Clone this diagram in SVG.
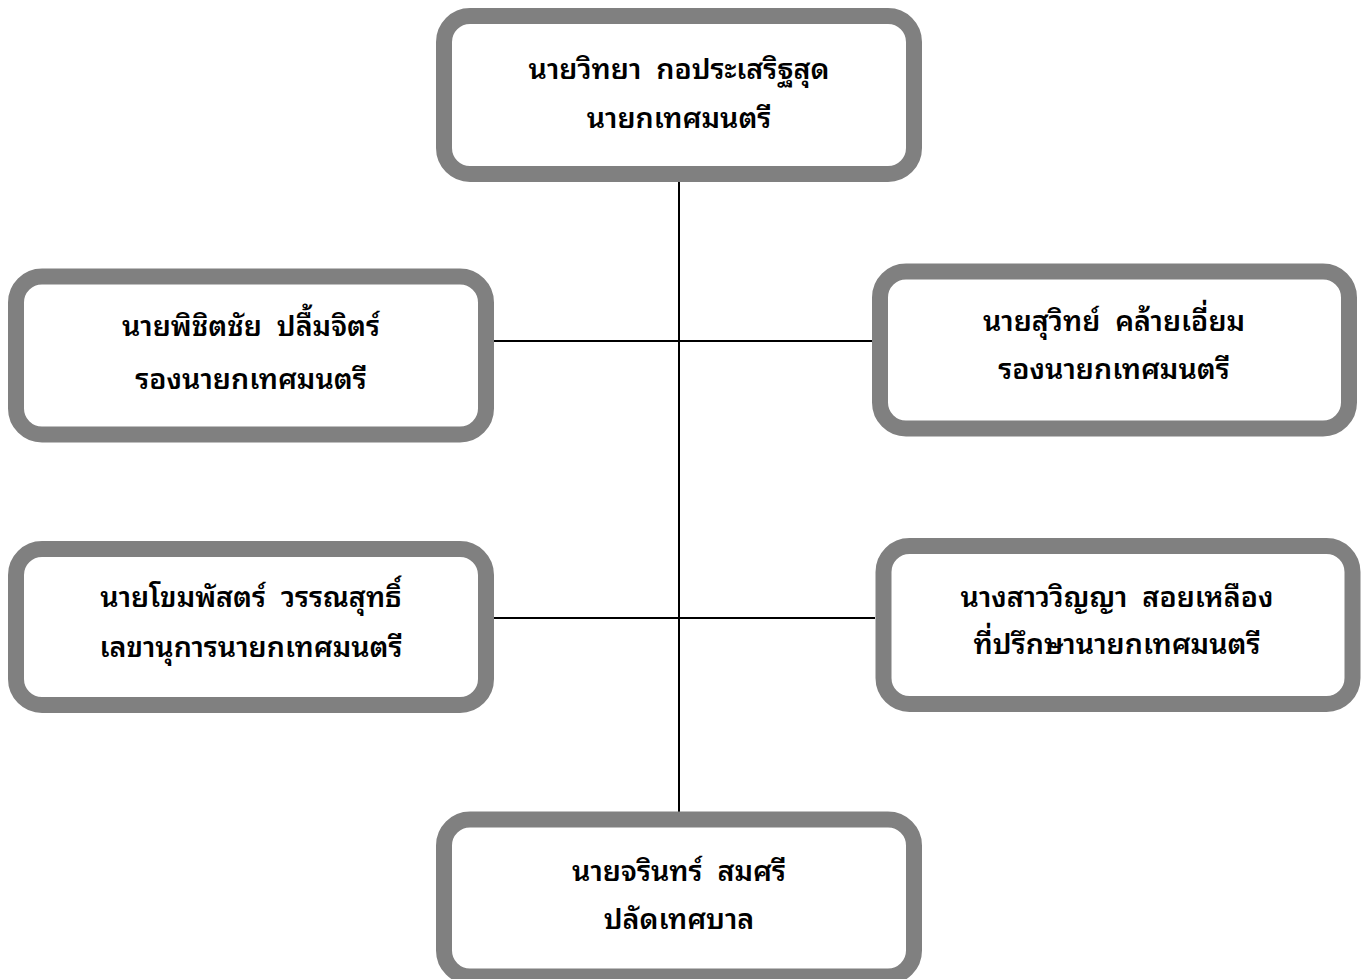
<svg xmlns="http://www.w3.org/2000/svg" width="1368" height="979" viewBox="0 0 1368 979">
<style>
.box{fill:#ffffff;stroke:#808080;stroke-width:16}
.lbl{font-family:"Noto Sans Thai Looped","Loma","Garuda","Tahoma","Leelawadee UI","Noto Sans Thai","Noto Sans","DejaVu Sans",sans-serif;font-size:28.6px;font-weight:600;fill:#000;text-anchor:middle;white-space:pre}
.con{stroke:#000;stroke-width:2;fill:none}
</style>
<rect x="0" y="0" width="1368" height="979" fill="#ffffff"/>
<g id="connectors">
<line class="con" x1="679" y1="182" x2="679" y2="812"/>
<line class="con" x1="494" y1="341" x2="872" y2="341"/>
<line class="con" x1="494" y1="618" x2="875" y2="618"/>
</g>
<g id="node-mayor">
<rect class="box" x="444" y="16" width="470" height="158" rx="26"/>
<text class="lbl" x="679" y="79" xml:space="preserve">นายวิทยา  กอประเสริฐสุด</text>
<text class="lbl" x="679" y="128">นายกเทศมนตรี</text>
</g>
<g id="node-deputy1">
<rect class="box" x="16" y="276.5" width="470" height="158" rx="26"/>
<text class="lbl" x="251" y="336" xml:space="preserve">นายพิชิตชัย  ปลื้มจิตร์</text>
<text class="lbl" x="251" y="389">รองนายกเทศมนตรี</text>
</g>
<g id="node-deputy2">
<rect class="box" x="880" y="271.5" width="469" height="157" rx="26"/>
<text class="lbl" x="1114" y="331" xml:space="preserve">นายสุวิทย์  คล้ายเอี่ยม</text>
<text class="lbl" x="1114" y="379">รองนายกเทศมนตรี</text>
</g>
<g id="node-secretary">
<rect class="box" x="16" y="549" width="470" height="156" rx="26"/>
<text class="lbl" x="251" y="607" xml:space="preserve">นายโขมพัสตร์  วรรณสุทธิ์</text>
<text class="lbl" x="251" y="657">เลขานุการนายกเทศมนตรี</text>
</g>
<g id="node-advisor">
<rect class="box" x="883.5" y="546" width="469" height="158" rx="26"/>
<text class="lbl" x="1117" y="607" xml:space="preserve">นางสาววิญญา  สอยเหลือง</text>
<text class="lbl" x="1117" y="654">ที่ปรึกษานายกเทศมนตรี</text>
</g>
<g id="node-clerk">
<rect class="box" x="444" y="819.5" width="470" height="157" rx="26"/>
<text class="lbl" x="679" y="881" xml:space="preserve">นายจรินทร์  สมศรี</text>
<text class="lbl" x="679" y="929">ปลัดเทศบาล</text>
</g>
</svg>
